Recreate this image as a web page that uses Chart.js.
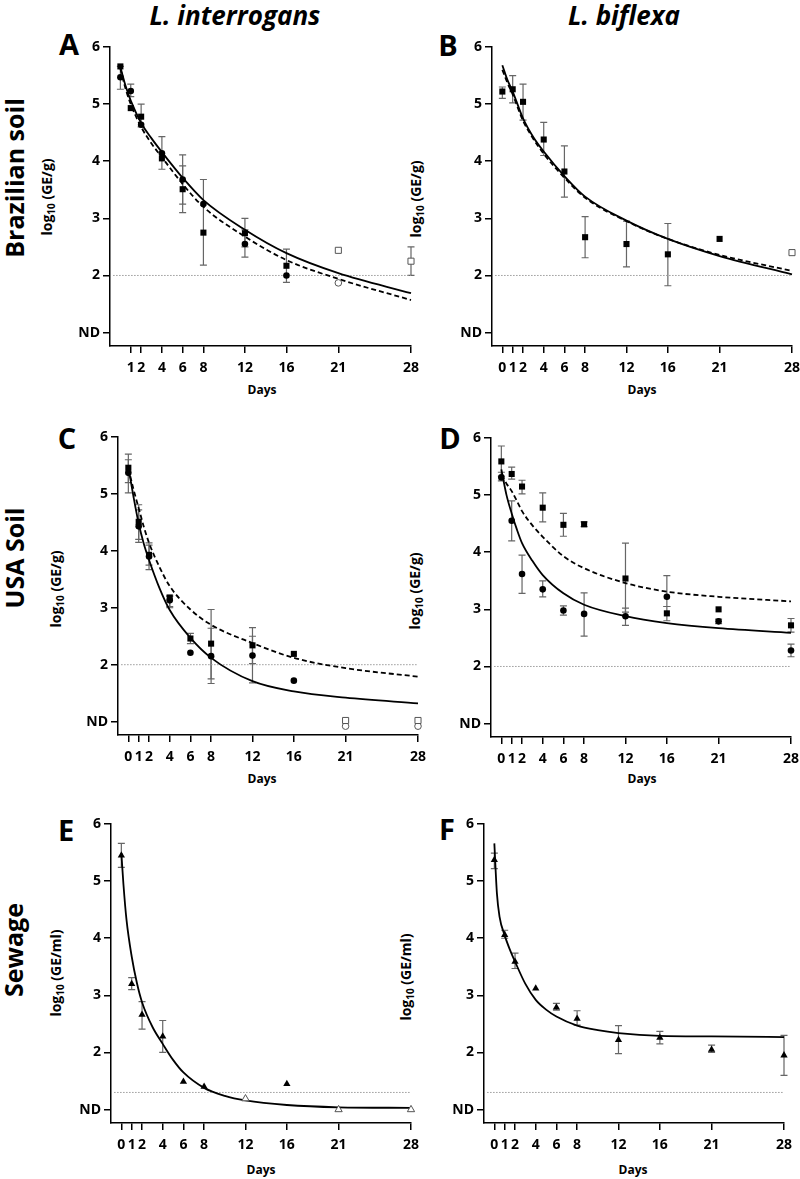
<!DOCTYPE html>
<html>
<head>
<meta charset="utf-8">
<script src="https://cdn.jsdelivr.net/npm/chart.js@4.4.0/dist/chart.umd.min.js"></script>
<style>
body { margin: 0; background: #fff; width: 800px; height: 1179px; position: relative; overflow: hidden; font-family: "Open Sans", sans-serif; color: #000; }
.t { position: absolute; white-space: nowrap; transform: translate(-50%, -50%); font-weight: 700; line-height: 1; }
.r { transform: translate(-50%, -50%) rotate(-90deg); }
.title { font-size: 26px; font-style: italic; }
.row { font-size: 25px; }
.letter { font-size: 29px; }
.ytitle { font-size: 14px; }
.ytitle sub { font-size: 10px; }
.days { font-size: 12px; }
canvas { position: absolute; }
</style>
</head>
<body>

<div class="t title" style="left:235px;top:15px">L. interrogans</div>
<div class="t title" style="left:624px;top:15px">L. biflexa</div>

<div class="t row r" style="left:14px;top:178px">Brazilian soil</div>
<div class="t row r" style="left:14px;top:558px">USA Soil</div>
<div class="t row r" style="left:13px;top:950px">Sewage</div>

<div class="t letter" style="left:69px;top:43px">A</div>
<div class="t letter" style="left:448px;top:44px">B</div>
<div class="t letter" style="left:67px;top:437px">C</div>
<div class="t letter" style="left:450px;top:437px">D</div>
<div class="t letter" style="left:66px;top:829px">E</div>
<div class="t letter" style="left:447px;top:828px">F</div>

<div class="t ytitle r" style="left:48px;top:197px">log<sub>10</sub> (GE/g)</div>
<div class="t ytitle r" style="left:417px;top:199px">log<sub>10</sub> (GE/g)</div>
<div class="t ytitle r" style="left:57px;top:589px">log<sub>10</sub> (GE/g)</div>
<div class="t ytitle r" style="left:416px;top:591px">log<sub>10</sub> (GE/g)</div>
<div class="t ytitle r" style="left:57px;top:973px">log<sub>10</sub> (GE/ml)</div>
<div class="t ytitle r" style="left:407px;top:977px">log<sub>10</sub> (GE/ml)</div>

<div class="t days" style="left:262px;top:390px">Days</div>
<div class="t days" style="left:642px;top:390px">Days</div>
<div class="t days" style="left:262px;top:779px">Days</div>
<div class="t days" style="left:642px;top:779px">Days</div>
<div class="t days" style="left:261px;top:1170px">Days</div>
<div class="t days" style="left:633px;top:1170px">Days</div>

<canvas id="cA"></canvas>
<canvas id="cB"></canvas>
<canvas id="cC"></canvas>
<canvas id="cD"></canvas>
<canvas id="cE"></canvas>
<canvas id="cF"></canvas>

<script>
// axis ticks
const xTicksA = [1, 2, 4, 6, 8, 12, 16, 21, 28];
const xTicks = [0, 1, 2, 4, 6, 8, 12, 16, 21, 28];
const yTicks = [1, 2, 3, 4, 5, 6];
const yLabels = ['ND', '2', '3', '4', '5', '6'];

// A - L. interrogans, Brazilian soil
const aDays = [0, 1, 2, 4, 6, 8, 12, 16];
const aSq = [5.66, 4.93, 4.78, 4.05, 3.51, 2.75, 2.74, 2.17];
const aSqLo = [null, null, 4.6, null, 3.1, 2.18, 2.5, 1.88];
const aSqHi = [null, null, 5.0, null, 3.92, 3.68, 3.0, 2.46];
const aCi = [5.47, 5.23, 4.64, 4.14, 3.68, 3.25, 2.55, 2.0];
const aCiLo = [5.26, 5.13, null, 3.86, 3.25, null, 2.32, null];
const aCiHi = [5.66, 5.35, null, 4.43, 4.11, null, 2.8, null];
const aOpenSqDays = [21, 28];
const aOpenSq = [2.44, 2.25];
const aOpenSqLo = [null, 2.0];
const aOpenSqHi = [null, 2.5];
const aOpenCiDays = [21];
const aOpenCi = [1.87];
const aFitDays = [0, 0.5, 1, 2, 3, 4, 6, 8, 12, 16, 21, 28];
const aFitSolid = [5.65, 5.32, 5.06, 4.67, 4.4, 4.16, 3.71, 3.32, 2.8, 2.39, 2.04, 1.69];
const aFitDash = [5.62, 5.27, 5.0, 4.6, 4.31, 4.07, 3.6, 3.2, 2.68, 2.27, 1.94, 1.57];

// B - L. biflexa, Brazilian soil
const bDays = [0, 1, 2, 4, 6, 8, 12, 16, 21];
const bSq = [5.22, 5.26, 5.04, 4.38, 3.82, 2.67, 2.55, 2.37, 2.64];
const bSqLo = [5.1, 5.02, 4.72, 4.1, 3.37, 2.31, 2.15, 1.82, null];
const bSqHi = [5.3, 5.5, 5.35, 4.68, 4.27, 3.03, 2.95, 2.91, null];
const bOpenSqDays = [28];
const bOpenSq = [2.4];
const bFitDays = [0, 0.5, 1, 2, 3, 4, 6, 8, 12, 16, 21, 28];
const bFitSolid = [5.68, 5.42, 5.22, 4.75, 4.42, 4.17, 3.74, 3.38, 2.96, 2.64, 2.34, 2.02];
const bFitDash = [5.6, 5.37, 5.17, 4.71, 4.39, 4.13, 3.71, 3.36, 2.95, 2.64, 2.36, 2.08];

// C - L. interrogans, USA soil
const cDays = [0, 1, 2, 4, 6, 8, 12, 16];
const cSq = [5.46, 4.51, 3.93, 3.18, 2.46, 2.37, 2.34, 2.19];
const cSqLo = [5.2, 4.2, 3.75, 3.02, 2.37, 1.75, 2.02, null];
const cSqHi = [5.7, 4.81, 4.1, 3.22, 2.55, 2.97, 2.65, null];
const cCi = [5.37, 4.43, 3.9, 3.13, 2.21, 2.15, 2.16, 1.72];
const cCiLo = [5.02, 4.15, 3.67, 3.0, null, 1.67, 1.68, null];
const cCiHi = [5.6, 4.72, 4.14, 3.2, null, 2.64, 2.5, null];
const cOpenDays = [21, 28];
const cOpenSq = [1.02, 1.02];
const cOpenCi = [0.92, 0.92];
const cFitDays = [0, 0.5, 1, 1.5, 2, 3, 4, 6, 8, 12, 16, 21, 28];
const cFitSolid = [5.47, 4.95, 4.48, 4.12, 3.84, 3.35, 2.96, 2.47, 2.12, 1.71, 1.53, 1.42, 1.32];
const cFitDash = [5.45, 5.08, 4.75, 4.42, 4.14, 3.72, 3.38, 2.97, 2.7, 2.38, 2.12, 1.94, 1.79];

// D - L. biflexa, USA soil
const dDays = [0, 1, 2, 4, 6, 8, 12, 16, 21, 28];
const dSq = [5.59, 5.37, 5.15, 4.78, 4.48, 4.49, 3.54, 2.93, 3.0, 2.72];
const dSqLo = [5.33, 5.28, 5.02, 4.53, 4.28, 4.45, 2.95, 2.8, null, 2.6];
const dSqHi = [5.86, 5.49, 5.26, 5.04, 4.68, 4.53, 4.16, 3.05, null, 2.84];
const dCi = [5.31, 4.55, 3.62, 3.35, 2.98, 2.92, 2.88, 3.22, 2.79, 2.28];
const dCiLo = [5.25, 4.2, 3.28, 3.22, 2.9, 2.53, 2.72, 3.05, 2.75, 2.17];
const dCiHi = [5.4, 4.9, 3.95, 3.5, 3.06, 3.29, 3.02, 3.59, 2.83, 2.39];
const dFitDays = [0, 0.5, 1, 1.5, 2, 3, 4, 6, 8, 12, 16, 21, 28];
const dFitSolid = [5.45, 5.0, 4.68, 4.4, 4.16, 3.85, 3.6, 3.28, 3.08, 2.88, 2.76, 2.67, 2.59];
const dFitDash = [5.35, 5.2, 5.07, 4.9, 4.72, 4.47, 4.27, 3.93, 3.72, 3.46, 3.31, 3.22, 3.14];

// E - L. interrogans, sewage
const eDays = [0, 1, 2, 4, 6, 8, 16];
const eTri = [5.45, 3.2, 2.66, 2.28, 1.49, 1.4, 1.45];
const eTriLo = [5.24, 3.1, 2.41, 2.0, null, null, null];
const eTriHi = [5.66, 3.31, 2.89, 2.56, null, null, null];
const eOpenDays = [12, 21, 28];
const eOpenTri = [1.19, 1.0, 1.0];
const eFitDays = [0, 0.2, 0.5, 1, 1.5, 2, 3, 4, 5, 6, 8, 10, 12, 16, 21, 28];
const eFit = [5.49, 4.95, 4.32, 3.68, 3.22, 2.88, 2.45, 2.15, 1.87, 1.65, 1.38, 1.24, 1.16, 1.08, 1.04, 1.03];

// F - L. biflexa, sewage
const fDays = [0, 1, 2, 4, 6, 8, 12, 16, 21, 28];
const fTri = [5.37, 4.06, 3.59, 3.12, 2.79, 2.59, 2.22, 2.26, 2.05, 1.95];
const fTriLo = [5.22, 4.0, 3.47, null, 2.74, 2.48, 1.98, 2.15, 2.0, 1.6];
const fTriHi = [5.49, 4.14, 3.74, null, 2.86, 2.73, 2.47, 2.37, 2.13, 2.3];
const fFitDays = [0, 0.25, 0.5, 1, 1.5, 2, 3, 4, 5, 6, 8, 10, 12, 16, 21, 28];
const fFit = [5.66, 4.78, 4.38, 4.05, 3.8, 3.59, 3.2, 2.92, 2.75, 2.63, 2.47, 2.39, 2.34, 2.29, 2.28, 2.27];

// detection limits
const lodDays = [-0.7, 28];
const lodSoil = [2, 2];
const lodSewage = [1.3, 1.3];

const pts = (xs, ys) => xs.map((x, i) => ({ x: x, y: ys[i] }));

function marker(xs, ys, style, open, lo, hi) {
    return {
        type: 'scatter',
        data: pts(xs, ys),
        pointStyle: style,
        pointRadius: style === 'rect' ? 4.3 : (style === 'triangle' ? 4.2 : 3.3),
        backgroundColor: open ? '#fff' : '#000',
        borderColor: open ? '#555' : '#000',
        borderWidth: open ? 1 : 0,
        errLo: lo,
        errHi: hi,
        clip: false,
        order: 0
    };
}

function curve(xs, ys, dashed) {
    return {
        type: 'line',
        data: pts(xs, ys),
        borderColor: '#000',
        borderWidth: 1.8,
        borderDash: dashed ? [5, 3] : [],
        pointRadius: 0,
        cubicInterpolationMode: 'monotone',
        fill: false,
        clip: false,
        order: 1
    };
}

function lod(ys) {
    return {
        type: 'line',
        data: pts(lodDays, ys),
        borderColor: '#9a9a9a',
        borderWidth: 1,
        borderDash: [1.5, 1.5],
        pointRadius: 0,
        fill: false,
        order: 2
    };
}

// error bars drawn under the markers
const errorBars = {
    id: 'errorBars',
    beforeDatasetsDraw(chart) {
        const ctx = chart.ctx;
        const x = chart.scales.x, y = chart.scales.y;
        ctx.save();
        ctx.strokeStyle = '#666';
        ctx.lineWidth = 1.2;
        chart.data.datasets.forEach(ds => {
            if (!ds.errLo) return;
            ds.data.forEach((p, i) => {
                const lo = ds.errLo[i], hi = ds.errHi[i];
                if (lo == null || hi == null) return;
                const px = x.getPixelForValue(p.x);
                const y1 = y.getPixelForValue(lo), y2 = y.getPixelForValue(hi);
                ctx.beginPath();
                ctx.moveTo(px, y1); ctx.lineTo(px, y2);
                ctx.moveTo(px - 3.5, y1); ctx.lineTo(px + 3.5, y1);
                ctx.moveTo(px - 3.5, y2); ctx.lineTo(px + 3.5, y2);
                ctx.stroke();
            });
        });
        ctx.restore();
    }
};

const tickFont = { family: 'Open Sans', weight: 'bold', size: 14 };

function makePanel(id, area, xt, datasets) {
    const [L, T, R, B] = area.map(Math.round);
    const cv = document.getElementById(id);
    const w = R - L + 45 + 16, h = B - T + 12 + 40;
    cv.width = w; cv.height = h;
    cv.style.left = (L - 45) + 'px';
    cv.style.top = (T - 12) + 'px';
    cv.style.width = w + 'px';
    cv.style.height = h + 'px';

    new Chart(cv.getContext('2d'), {
        type: 'scatter',
        data: { datasets: datasets },
        options: {
            responsive: false,
            maintainAspectRatio: false,
            devicePixelRatio: 1,
            animation: false,
            events: [],
            layout: { padding: { top: 12, right: 16, left: 0, bottom: 0 } },
            plugins: { legend: { display: false }, tooltip: { enabled: false } },
            scales: {
                x: {
                    type: 'linear',
                    min: -1,
                    max: 28,
                    afterFit: s => { s.height = 40; },
                    afterBuildTicks: s => { s.ticks = xt.map(v => ({ value: v })); },
                    grid: { drawOnChartArea: false, drawTicks: true, tickLength: 7, color: '#000', lineWidth: 1.5 },
                    border: { color: '#000', width: 1.5 },
                    ticks: { color: '#000', font: tickFont, padding: 7, maxRotation: 0, autoSkip: false }
                },
                y: {
                    type: 'linear',
                    min: 0.765,
                    max: 6,
                    afterFit: s => { s.width = 45; },
                    afterBuildTicks: s => { s.ticks = yTicks.map(v => ({ value: v })); },
                    grid: { drawOnChartArea: false, drawTicks: true, tickLength: 7, color: '#000', lineWidth: 1.5 },
                    border: { color: '#000', width: 1.5 },
                    ticks: {
                        color: '#000', font: tickFont, padding: 3, autoSkip: false,
                        callback: v => yLabels[yTicks.indexOf(v)]
                    }
                }
            }
        },
        plugins: [errorBars]
    });
}

makePanel('cA', [110, 47, 410.5, 345.7], xTicksA, [
    lod(lodSoil),
    curve(aFitDays, aFitSolid, false),
    curve(aFitDays, aFitDash, true),
    marker(aDays, aSq, 'rect', false, aSqLo, aSqHi),
    marker(aDays, aCi, 'circle', false, aCiLo, aCiHi),
    marker(aOpenSqDays, aOpenSq, 'rect', true, aOpenSqLo, aOpenSqHi),
    marker(aOpenCiDays, aOpenCi, 'circle', true)
]);

makePanel('cB', [491.7, 47, 791.7, 345.7], xTicks, [
    lod(lodSoil),
    curve(bFitDays, bFitSolid, false),
    curve(bFitDays, bFitDash, true),
    marker(bDays, bSq, 'rect', false, bSqLo, bSqHi),
    marker(bOpenSqDays, bOpenSq, 'rect', true)
]);

makePanel('cC', [117.5, 436.7, 418.3, 735], xTicks, [
    lod(lodSoil),
    curve(cFitDays, cFitSolid, false),
    curve(cFitDays, cFitDash, true),
    marker(cDays, cSq, 'rect', false, cSqLo, cSqHi),
    marker(cDays, cCi, 'circle', false, cCiLo, cCiHi),
    marker(cOpenDays, cOpenSq, 'rect', true),
    marker(cOpenDays, cOpenCi, 'circle', true)
]);

makePanel('cD', [490.5, 437.7, 790.7, 737.3], xTicks, [
    lod(lodSoil),
    curve(dFitDays, dFitSolid, false),
    curve(dFitDays, dFitDash, true),
    marker(dDays, dSq, 'rect', false, dSqLo, dSqHi),
    marker(dDays, dCi, 'circle', false, dCiLo, dCiHi)
]);

makePanel('cE', [110.5, 824, 411, 1123.3], xTicks, [
    lod(lodSewage),
    curve(eFitDays, eFit, false),
    marker(eDays, eTri, 'triangle', false, eTriLo, eTriHi),
    marker(eOpenDays, eOpenTri, 'triangle', true)
]);

makePanel('cF', [484, 824, 783.7, 1123], xTicks, [
    lod(lodSewage),
    curve(fFitDays, fFit, false),
    marker(fDays, fTri, 'triangle', false, fTriLo, fTriHi)
]);
</script>
</body>
</html>
